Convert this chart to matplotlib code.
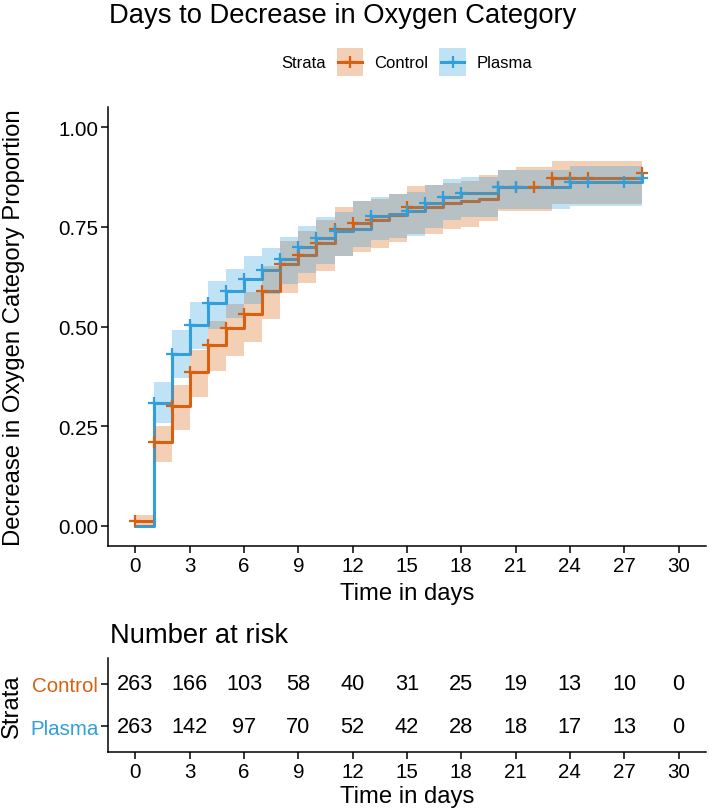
import matplotlib
matplotlib.use("Agg")
import matplotlib.pyplot as plt
from matplotlib.patches import Rectangle
from matplotlib.lines import Line2D

plt.rcParams['font.family'] = ['Liberation Sans', 'DejaVu Sans']

# step times (days) and cumulative proportions
times = list(range(29))

control_est = [0.013, 0.210, 0.300, 0.386, 0.453, 0.497, 0.531, 0.588, 0.656, 0.680,
               0.710, 0.745, 0.759, 0.767, 0.781, 0.801, 0.801, 0.809, 0.816, 0.820,
               0.849, 0.849, 0.849, 0.872, 0.872, 0.872, 0.872, 0.872, 0.885]
control_lo = [0.000, 0.160, 0.240, 0.324, 0.388, 0.427, 0.462, 0.518, 0.585, 0.608,
              0.640, 0.676, 0.688, 0.698, 0.712, 0.733, 0.733, 0.744, 0.750, 0.765,
              0.790, 0.790, 0.790, 0.807, 0.807, 0.807, 0.807, 0.807, 0.807]
control_hi = [0.028, 0.250, 0.352, 0.440, 0.514, 0.556, 0.587, 0.652, 0.715, 0.740,
              0.767, 0.801, 0.814, 0.820, 0.832, 0.852, 0.856, 0.859, 0.866, 0.880,
              0.893, 0.899, 0.899, 0.916, 0.916, 0.916, 0.916, 0.916, 0.916]

plasma_est = [0.000, 0.307, 0.432, 0.505, 0.558, 0.588, 0.619, 0.642, 0.669, 0.699,
              0.722, 0.740, 0.745, 0.777, 0.782, 0.789, 0.810, 0.826, 0.835, 0.836,
              0.851, 0.851, 0.851, 0.851, 0.862, 0.862, 0.862, 0.862, 0.872]
plasma_lo = [0.000, 0.258, 0.371, 0.443, 0.493, 0.522, 0.556, 0.581, 0.606, 0.635,
             0.658, 0.677, 0.700, 0.717, 0.722, 0.727, 0.748, 0.767, 0.774, 0.774,
             0.796, 0.796, 0.796, 0.795, 0.803, 0.803, 0.803, 0.803, 0.803]
plasma_hi = [0.000, 0.360, 0.491, 0.562, 0.614, 0.644, 0.676, 0.698, 0.725, 0.752,
             0.775, 0.788, 0.814, 0.826, 0.832, 0.837, 0.856, 0.870, 0.876, 0.874,
             0.893, 0.893, 0.893, 0.893, 0.902, 0.902, 0.902, 0.902, 0.902]

# censoring marks (days)
control_cens = [0, 1, 2, 3, 4, 5, 6, 7, 8, 9, 10, 11, 12, 13, 15, 20, 21, 22, 23, 24, 25, 28]
plasma_cens = [1, 2, 3, 4, 5, 6, 7, 8, 9, 10, 11, 13, 15, 16, 17, 18, 20, 21, 24, 25, 27, 28]

# number at risk table
risk_times = [0, 3, 6, 9, 12, 15, 18, 21, 24, 27, 30]
control_risk = [263, 166, 103, 58, 40, 31, 25, 19, 13, 10, 0]
plasma_risk = [263, 142, 97, 70, 52, 42, 28, 18, 17, 13, 0]

c_orange = '#D9600F'
c_blue = '#2F9FDE'

W, H = 709, 812
fig = plt.figure(figsize=(W / 100, H / 100), dpi=100)


def fx(px):
    return px / W


def fy(py):
    return 1 - py / H


tick_fs = 14.8
lab_fs = 17.2
title_fs = 19.7

# ---- main KM panel ----
ax = fig.add_axes([fx(108.3), fy(546.7), (705.7 - 108.3) / W, (546.7 - 108.3) / H])

ax.step(times, control_est, where='post', color=c_orange, lw=2.2, zorder=2)
ax.step(times, plasma_est, where='post', color=c_blue, lw=2.2, zorder=2)
ax.fill_between(times, control_lo, control_hi, step='post', color=c_orange,
                alpha=0.3, lw=0, zorder=3)
ax.fill_between(times, plasma_lo, plasma_hi, step='post', color=c_blue,
                alpha=0.3, lw=0, zorder=3)

cy = [control_est[times.index(t)] for t in control_cens]
py_ = [plasma_est[times.index(t)] for t in plasma_cens]
ax.plot(control_cens, cy, ls='none', marker='+', ms=8.5, mew=1.6, color=c_orange, zorder=4)
ax.plot(plasma_cens, py_, ls='none', marker='+', ms=8.5, mew=1.6, color=c_blue, zorder=4)

ax.set_xlim(-1.5, 31.5)
ax.set_ylim(-0.05, 1.05)
ax.set_xticks(risk_times)
ax.set_yticks([0, 0.25, 0.5, 0.75, 1.0])
ax.set_yticklabels(['0.00', '0.25', '0.50', '0.75', '1.00'])
for s in ['top', 'right']:
    ax.spines[s].set_visible(False)
for s in ['left', 'bottom']:
    ax.spines[s].set_linewidth(1.1)
ax.tick_params(labelsize=tick_fs, length=4.8, width=1.1, pad=2.4, colors='black')
ax.set_xlabel('Time in days', fontsize=lab_fs)
ax.xaxis.set_label_coords(0.5, (546.7 - 594) / (546.7 - 108.3))
ax.xaxis.label.set_va('center')
ax.set_ylabel('Decrease in Oxygen Category Proportion', fontsize=lab_fs)
ax.yaxis.set_label_coords((14 - 108.3) / (705.7 - 108.3), 0.5)
ax.yaxis.label.set_va('center')

# ---- risk table ----
axt = fig.add_axes([fx(108.3), fy(752.7), (705.7 - 108.3) / W, (752.7 - 659.3) / H])
for x, n in zip(risk_times, control_risk):
    axt.text(x, 1, str(n), ha='center', va='center', fontsize=15.7)
for x, n in zip(risk_times, plasma_risk):
    axt.text(x, 0, str(n), ha='center', va='center', fontsize=15.7)
axt.set_xlim(-1.5, 31.5)
axt.set_ylim(-0.6, 1.6)
axt.set_xticks(risk_times)
axt.set_yticks([1, 0])
axt.set_yticklabels(['Control', 'Plasma'])
for lbl, c in zip(axt.get_yticklabels(), [c_orange, c_blue]):
    lbl.set_color(c)
for s in ['top', 'right']:
    axt.spines[s].set_visible(False)
for s in ['left', 'bottom']:
    axt.spines[s].set_linewidth(1.1)
axt.tick_params(labelsize=tick_fs, length=4.8, width=1.1, pad=2.4)
axt.set_xlabel('Time in days', fontsize=lab_fs)
axt.xaxis.set_label_coords(0.5, (752.7 - 797) / (752.7 - 659.3))
axt.xaxis.label.set_va('center')
axt.set_ylabel('Strata', fontsize=lab_fs)
axt.yaxis.set_label_coords((11.7 - 108.3) / (705.7 - 108.3), 0.5)
axt.yaxis.label.set_va('center')

# ---- titles ----
fig.text(fx(109), fy(22.7), 'Days to Decrease in Oxygen Category',
         fontsize=title_fs, ha='left', va='baseline')
fig.text(fx(110), fy(643.3), 'Number at risk', fontsize=title_fs, ha='left', va='baseline')

# ---- legend ----
ly = 63.3
fig.text(fx(281.7), fy(ly), 'Strata', fontsize=12, ha='left', va='center')
for x0, col, name in [(336.7, c_orange, 'Control'), (439.3, c_blue, 'Plasma')]:
    fig.patches.append(Rectangle((fx(x0), fy(76.7)), 26.6 / W, 27.4 / H,
                                 transform=fig.transFigure, facecolor=col,
                                 alpha=0.3, lw=0))
    fig.lines.append(Line2D([fx(x0 + 1.5), fx(x0 + 25)], [fy(ly), fy(ly)],
                            transform=fig.transFigure, color=col, lw=2.2))
    fig.lines.append(Line2D([fx(x0 + 13.3)], [fy(ly)], transform=fig.transFigure,
                            color=col, marker='+', ms=9, mew=1.6, ls='none'))
    fig.text(fx(x0 + 37.5), fy(ly), name, fontsize=12, ha='left', va='center')

fig.savefig('out.png', dpi=100)
